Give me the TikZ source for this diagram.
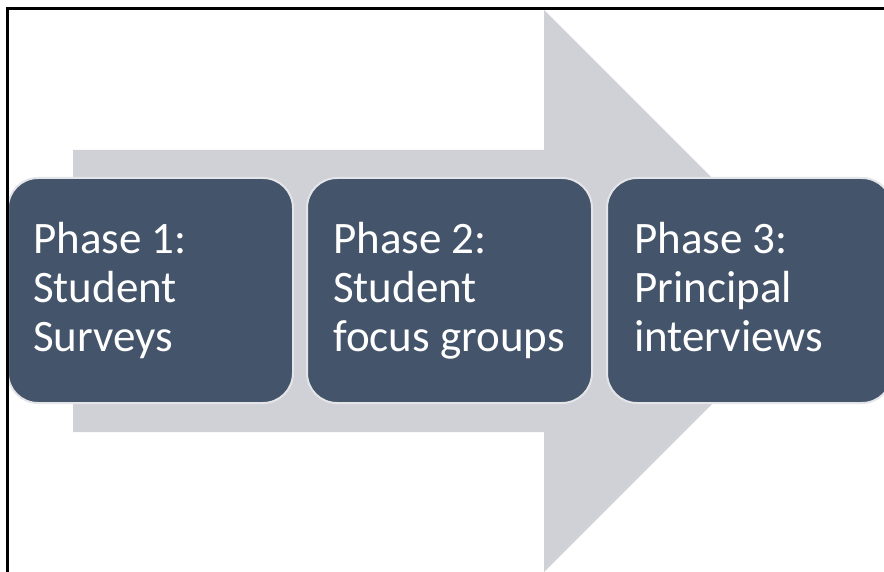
\documentclass[tikz,border=0pt]{standalone}
\usepackage{fontspec}
\setmainfont{Carlito}
\definecolor{arrowgrey}{HTML}{D0D1D6}
\definecolor{phasefill}{HTML}{44546A}
\definecolor{phaseedge}{HTML}{E4E5E8}
\begin{document}
\begin{tikzpicture}[x=1pt,y=-1pt,
  phasebox/.style={draw=phaseedge, line width=2pt, fill=phasefill,
    rounded corners=30pt, minimum width=285pt, minimum height=225pt,
    inner sep=0pt, outer sep=0pt},
  phasetext/.style={anchor=base west, align=left, text=white, inner sep=0pt,
    font=\fontsize{45}{49}\selectfont},
  frameline/.style={line width=3pt, black}]
\useasboundingbox (0,0) rectangle (884,572);
% big background arrow
\fill[arrowgrey] (73,150) -- (544,150) -- (544,10) -- (825,291)
  -- (544,572) -- (544,432) -- (73,432) -- cycle;
% phase boxes
\node[phasebox] (p1) at (150.5,290.5) {};
\node[phasebox] (p2) at (449.5,290.5) {};
\node[phasebox] (p3) at (749.5,290.5) {};
% labels, placed by the baseline of their last line
\node[phasetext] (t1) at (33,351) {Phase 1:\\Student\\Surveys};
\node[phasetext] (t2) at (333,351) {Phase 2:\\Student\\focus groups};
\node[phasetext] (t3) at (634,351) {Phase 3:\\Principal\\interviews};
% frame on the left and top
\draw[frameline] (7,572) -- (7,9) -- (884,9);
\end{tikzpicture}
\end{document}
